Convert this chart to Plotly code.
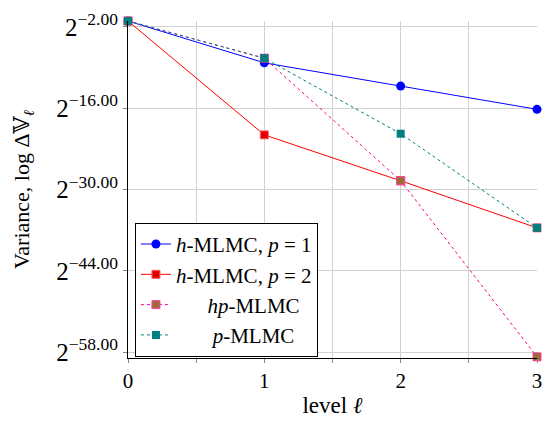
import plotly.graph_objects as go

levels = [0, 1, 2, 3]
h_p1 = [-1.0, -8.2, -12.2, -16.2]
h_p2 = [-1.0, -20.6, -28.5, -36.6]
hp = [-1.0, -7.4, -28.5, -58.8]
p_mlmc = [-1.0, -7.4, -20.4, -36.6]

y_ticks = [-2, -16, -30, -44, -58]
y_ticktext = ["2<sup>\u2212%.2f</sup>" % abs(v) for v in y_ticks]
x_ticks = [0, 0.5, 1, 1.5, 2, 2.5, 3]
x_ticktext = ["0", "", "1", "", "2", "", "3"]

FONT = "Liberation Serif, DejaVu Serif, serif"

fig = go.Figure()
fig.add_trace(go.Scatter(x=levels, y=h_p1, mode="lines+markers",
                         name="<i>h</i>-MLMC, <i>p</i> = 1",
                         line=dict(color="#0000FF", width=1),
                         marker=dict(symbol="circle", size=9, color="#0000FF"),
                         cliponaxis=False))
fig.add_trace(go.Scatter(x=levels, y=h_p2, mode="lines+markers",
                         name="<i>h</i>-MLMC, <i>p</i> = 2",
                         line=dict(color="#FF0000", width=1),
                         marker=dict(symbol="square", size=8, color="#E00000",
                                     line=dict(color="#FF6060", width=1)),
                         cliponaxis=False))
fig.add_trace(go.Scatter(x=levels, y=hp, mode="lines+markers",
                         name="      <i>hp</i>-MLMC",
                         line=dict(color="#FF0090", width=1, dash="3px,3px"),
                         marker=dict(symbol="square", size=8, color="#9C6B3C",
                                     line=dict(color="#FF40A0", width=1)),
                         cliponaxis=False))
fig.add_trace(go.Scatter(x=levels, y=p_mlmc, mode="lines+markers",
                         name="       <i>p</i>-MLMC",
                         line=dict(color="#008080", width=1, dash="3px,3px"),
                         marker=dict(symbol="square", size=8, color="#008080"),
                         cliponaxis=False))

fig.update_layout(
    width=551, height=422,
    margin=dict(l=128, r=9, t=18, b=60),
    paper_bgcolor="white", plot_bgcolor="white",
    font=dict(family=FONT, size=20, color="black"),
    showlegend=True,
    legend=dict(x=0.017, y=0.401, xanchor="left", yanchor="top",
                bgcolor="white", bordercolor="black", borderwidth=1,
                font=dict(family=FONT, size=21), tracegroupgap=0,
                itemwidth=30),
    xaxis=dict(range=[0, 3], tickvals=x_ticks, ticktext=x_ticktext,
               showgrid=True, gridcolor="#D0D0D0", gridwidth=1,
               showline=True, linecolor="black", linewidth=1,
               ticks="outside", ticklen=4, tickcolor="#888888",
               zeroline=False,
               title=dict(text="level <i>\u2113</i>", font=dict(size=23), standoff=4),
               tickfont=dict(size=21)),
    yaxis=dict(range=[-59.0, -1.0], tickvals=y_ticks, ticktext=y_ticktext,
               showgrid=True, gridcolor="#D0D0D0", gridwidth=1,
               showline=True, linecolor="black", linewidth=1,
               ticks="outside", ticklen=4, tickcolor="#888888",
               zeroline=False,
               title=dict(text="Variance, log \u0394\U0001D54D<sub><i>\u2113</i></sub>",
                          font=dict(size=22), standoff=20),
               tickfont=dict(size=25)),
)

fig.write_html("out.html")
